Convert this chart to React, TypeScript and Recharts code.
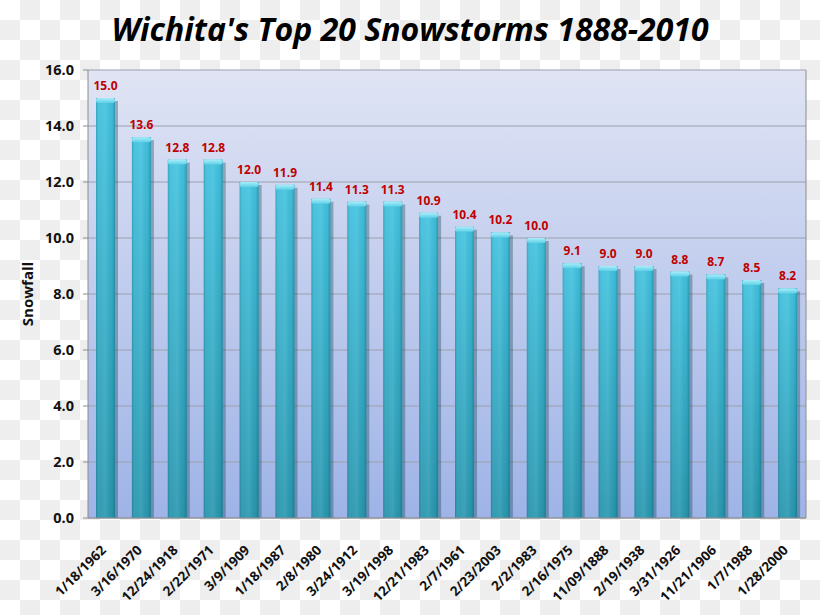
import React from 'react';
import { BarChart, Bar, XAxis, YAxis, CartesianGrid, LabelList } from 'recharts';

const dates = [
  '1/18/1962', '3/16/1970', '12/24/1918', '2/22/1971', '3/9/1909',
  '1/18/1987', '2/8/1980', '3/24/1912', '3/19/1998', '12/21/1983',
  '2/7/1961', '2/23/2003', '2/2/1983', '2/16/1975', '11/09/1888',
  '2/19/1938', '3/31/1926', '11/21/1906', '1/7/1988', '1/28/2000',
];
const snowfall = [
  15.0, 13.6, 12.8, 12.8, 12.0, 11.9, 11.4, 11.3, 11.3, 10.9,
  10.4, 10.2, 10.0, 9.1, 9.0, 9.0, 8.8, 8.7, 8.5, 8.2,
];
const yTicks = [0, 2, 4, 6, 8, 10, 12, 14, 16];
const title = "Wichita's Top 20 Snowstorms 1888-2010";
const yLabel = 'Snowfall';

const data = dates.map((d, i) => ({ date: d, value: snowfall[i] }));

const FONT = "'Open Sans', 'Liberation Sans', sans-serif";

const BarShape = (props: any) => {
  const { x, y, width, height } = props;
  if (!height || height <= 0) return null;
  return (
    <g>
      <rect x={x + 3} y={y + 3} width={width} height={height - 3} fill="#0e3f4c" opacity={0.35} />
      <rect x={x} y={y} width={width} height={height} fill="url(#barV)" />
      <rect x={x} y={y} width={width} height={height} fill="url(#barH)" />
      <rect x={x} y={y} width={width} height={5} rx={2} fill="url(#capG)" />
    </g>
  );
};

const XTick = (props: any) => {
  const { x, y, payload } = props;
  return (
    <g transform={`translate(${x + 1},${y + 25})`}>
      <text
        x={0}
        y={0}
        textAnchor="end"
        transform="rotate(-45)"
        fontFamily={FONT}
        fontWeight="bold"
        fontSize={13.5}
        fill="#111"
      >
        {payload.value}
      </text>
    </g>
  );
};

const fmt = (v: any) => Number(v).toFixed(1);

export default function App() {
  return (
    <div
      style={{
        position: 'absolute',
        left: 0,
        top: 0,
        width: 820,
        height: 615,
        background: 'repeating-conic-gradient(#eeeeee 0 25%, #ffffff 0 50%) 0 0 / 40px 40px',
      }}
    >
      <div
        style={{
          position: 'absolute',
          left: 0,
          top: 4,
          width: 820,
          textAlign: 'center',
          fontFamily: FONT,
          fontStyle: 'italic',
          fontWeight: 'bold',
          fontSize: 32,
          lineHeight: '50px',
          color: '#000',
        }}
      >
        {title}
      </div>
      <div style={{ position: 'absolute', left: 0, top: 0 }}>
        <BarChart
          width={820}
          height={615}
          data={data}
          margin={{ top: 70, right: 0, bottom: 0, left: 0 }}
          barCategoryGap={0}
        >
          <defs>
            <linearGradient id="bg" x1="0" y1="0" x2="0" y2="1">
              <stop offset="0%" stopColor="#e0e4f4" />
              <stop offset="100%" stopColor="#9eb3e7" />
            </linearGradient>
            <linearGradient id="barV" x1="0" y1="0" x2="0" y2="1">
              <stop offset="0%" stopColor="#42c2df" />
              <stop offset="100%" stopColor="#2896ae" />
            </linearGradient>
            <linearGradient id="barH" x1="0" y1="0" x2="1" y2="0">
              <stop offset="0%" stopColor="#0b4a5a" stopOpacity={0.25} />
              <stop offset="20%" stopColor="#ffffff" stopOpacity={0.05} />
              <stop offset="50%" stopColor="#ffffff" stopOpacity={0.1} />
              <stop offset="85%" stopColor="#0b4a5a" stopOpacity={0.05} />
              <stop offset="100%" stopColor="#0b4a5a" stopOpacity={0.35} />
            </linearGradient>
            <linearGradient id="capG" x1="0" y1="0" x2="0" y2="1">
              <stop offset="0%" stopColor="#a8eef9" />
              <stop offset="100%" stopColor="#5fd0e8" />
            </linearGradient>
          </defs>
          <CartesianGrid
            vertical={false}
            stroke="#9aa0ad"
            fill="url(#bg)"
            fillOpacity={1}
          />
          <XAxis
            dataKey="date"
            height={97}
            interval={0}
            tick={<XTick />}
            tickLine={false}
            axisLine={{ stroke: '#8c8c8c' }}
          />
          <YAxis
            width={88}
            domain={[0, 16]}
            ticks={yTicks}
            tickFormatter={fmt}
            tickLine={{ stroke: '#8c8c8c' }}
            tickSize={5}
            tickMargin={9}
            axisLine={{ stroke: '#8c8c8c' }}
            tick={{ fontFamily: FONT, fontWeight: 'bold', fontSize: 14.5, fill: '#111' }}
            label={{
              value: yLabel,
              angle: -90,
              position: 'insideLeft',
              offset: 28,
              style: { fontFamily: FONT, fontWeight: 'bold', fontSize: 15, fill: '#111', textAnchor: 'middle' },
            }}
          />
          <YAxis
            yAxisId="right"
            orientation="right"
            width={14}
            domain={[0, 16]}
            tick={false}
            tickLine={false}
            axisLine={{ stroke: '#8c8c8c' }}
          />
          <Bar dataKey="value" barSize={19} shape={<BarShape />} isAnimationActive={false}>
            <LabelList
              dataKey="value"
              position="top"
              offset={8}
              formatter={fmt}
              fill="#c00000"
              fontFamily={FONT}
              fontWeight="bold"
              fontSize={12}
            />
          </Bar>
        </BarChart>
      </div>
    </div>
  );
}
